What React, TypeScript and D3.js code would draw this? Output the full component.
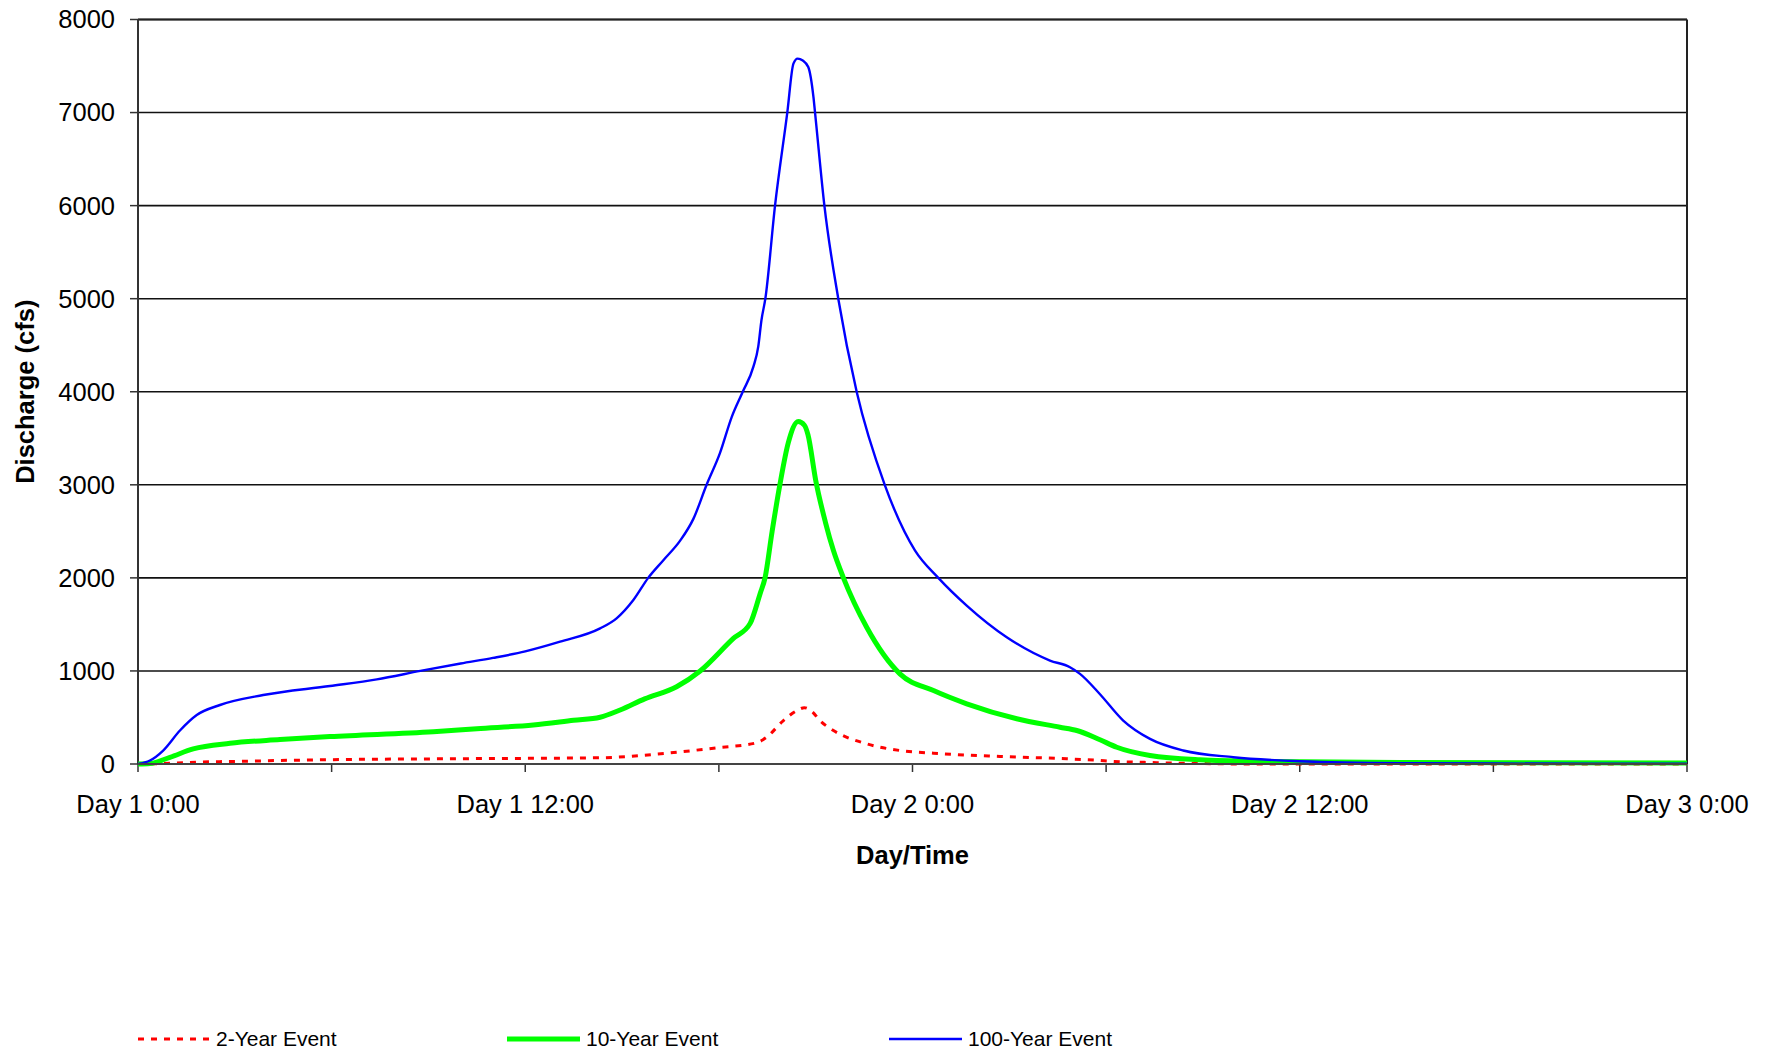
import React from "react";
import * as d3 from "d3";

const hours2: number[] = [0, 0.5, 1, 1.82, 3, 5.64, 10, 14.32, 16.38, 17.93, 19.17, 19.48, 20.0, 20.4, 20.65, 20.9, 21.13, 21.55, 22.58, 23.61, 24.65, 26.71, 28.78, 29.81, 30.11, 31.36, 32.9, 34, 48];
const flow2: number[] = [0, 3, 8, 20, 28, 45, 57, 67, 116, 174, 228, 288, 467, 570, 605, 560, 467, 360, 217, 145, 116, 81, 56, 38, 30, 16, 5, 1, 0];

const hours10: number[] = [0, 0.37, 0.99, 1.71, 2.85, 4.4, 5.95, 9.15, 10.5, 12.25, 13.5, 14.32, 14.94, 15.7, 16.69, 17.42, 18.45, 18.97, 19.28, 19.43, 19.65, 19.89, 20.15, 20.46, 20.65, 20.76, 21.0, 21.3, 21.55, 21.86, 22.58, 23.61, 24.65, 25.68, 27.23, 28.57, 29.09, 29.81, 30.33, 31.36, 32.91, 34.98, 39.1, 48];
const flow10: number[] = [0, 5, 72, 162, 222, 262, 295, 347, 380, 419, 470, 503, 580, 700, 830, 1000, 1350, 1511, 1833, 2000, 2500, 3000, 3450, 3680, 3640, 3540, 3050, 2600, 2293, 2000, 1469, 969, 789, 647, 486, 395, 360, 260, 180, 91, 45, 27, 15, 10];

const hours100: number[] = [0, 0.37, 0.78, 1.3, 1.82, 2.54, 3.88, 5.95, 7.4, 8.75, 10, 11, 12, 13.08, 14.32, 14.83, 15.35, 15.81, 16.28, 16.8, 17.21, 17.62, 18.03, 18.4, 18.74, 19.07, 19.22, 19.32, 19.44, 19.74, 20.12, 20.31, 20.44, 20.6, 20.77, 20.93, 20.98, 21.27, 21.7, 22.27, 23.14, 24.08, 24.8, 25.68, 26.92, 28.26, 28.88, 29.19, 29.81, 30.53, 31.36, 32.39, 33.94, 36, 39.1, 42, 48];
const flow100: number[] = [0, 38, 145, 360, 526, 634, 741, 838, 910, 1000, 1080, 1140, 1210, 1314, 1457, 1565, 1762, 2000, 2190, 2400, 2634, 3000, 3337, 3730, 4000, 4270, 4485, 4770, 5000, 6000, 7000, 7526, 7580, 7560, 7490, 7168, 7000, 6000, 5000, 4000, 3000, 2293, 2000, 1702, 1362, 1112, 1040, 969, 750, 467, 270, 145, 73, 30, 9, 5, 3];

const yTicks: number[] = [0, 1000, 2000, 3000, 4000, 5000, 6000, 7000, 8000];
const xLabelHours: number[] = [0, 12, 24, 36, 48];
const xLabels: string[] = ["Day 1 0:00", "Day 1 12:00", "Day 2 0:00", "Day 2 12:00", "Day 3 0:00"];
const xTickHours: number[] = [0, 6, 12, 18, 24, 30, 36, 42, 48];
const seriesNames: string[] = ["2-Year Event", "10-Year Event", "100-Year Event"];

const W = 1771;
const H = 1052;
const L = 138, R = 1687, T = 19.5, B = 764;
const FONT = "Arial, 'Liberation Sans', Helvetica, sans-serif";

export default function App() {
  const x = d3.scaleLinear().domain([0, 48]).range([L, R]);
  const y = d3.scaleLinear().domain([0, 8000]).range([B, T]);
  const line = d3
    .line<[number, number]>()
    .x((d) => x(d[0]))
    .y((d) => y(d[1]))
    .curve(d3.curveMonotoneX);
  const zip = (a: number[], b: number[]) => a.map((v, i) => [v, b[i]] as [number, number]);

  const series = [
    { name: seriesNames[0], d: line(zip(hours2, flow2)) || "", color: "#ff0000", w: 3, dash: "6,7", lx: 138, tx: 216 },
    { name: seriesNames[1], d: line(zip(hours10, flow10)) || "", color: "#00ff00", w: 5, dash: undefined, lx: 507, tx: 586 },
    { name: seriesNames[2], d: line(zip(hours100, flow100)) || "", color: "#0000ff", w: 2.4, dash: undefined, lx: 889, tx: 968 },
  ];

  return (
    <svg
      width={W}
      height={H}
      style={{ position: "absolute", left: 0, top: 0, background: "#fff" }}
      fontFamily={FONT}
    >
      <rect x={0} y={0} width={W} height={H} fill="#fff" />
      {yTicks.map((t) => (
        <line key={"g" + t} x1={L} x2={R} y1={y(t)} y2={y(t)} stroke="#111" strokeWidth={1.6} />
      ))}
      {yTicks.map((t) => (
        <g key={"yt" + t}>
          <line x1={L - 8} x2={L} y1={y(t)} y2={y(t)} stroke="#333" strokeWidth={1.5} />
          <text x={115} y={y(t)} dy="0.35em" textAnchor="end" fontSize={25.5} fill="#000">
            {t}
          </text>
        </g>
      ))}
      {xTickHours.map((h) => (
        <line key={"xt" + h} x1={x(h)} x2={x(h)} y1={B} y2={B + 8} stroke="#333" strokeWidth={1.5} />
      ))}
      {xLabelHours.map((h, i) => (
        <text key={"xl" + h} x={x(h)} y={813} textAnchor="middle" fontSize={25.5} fill="#000">
          {xLabels[i]}
        </text>
      ))}
      <line x1={L} x2={R} y1={T} y2={T} stroke="#222" strokeWidth={2} />
      <line x1={R} x2={R} y1={T} y2={B} stroke="#222" strokeWidth={2} />
      <line x1={L} x2={L} y1={T} y2={B} stroke="#333" strokeWidth={2} />
      {series.map((s) => (
        <path
          key={s.name}
          d={s.d}
          fill="none"
          stroke={s.color}
          strokeWidth={s.w}
          strokeDasharray={s.dash}
          strokeLinejoin="round"
        />
      ))}
      <line x1={L} x2={R} y1={B} y2={B} stroke="#444" strokeWidth={2.2} />
      <text x={(L + R) / 2} y={864} textAnchor="middle" fontSize={25.5} fontWeight="bold" fill="#000">
        Day/Time
      </text>
      <text
        transform={`translate(34, ${(T + B) / 2}) rotate(-90)`}
        textAnchor="middle"
        fontSize={25.5}
        fontWeight="bold"
        fill="#000"
      >
        Discharge (cfs)
      </text>
      {series.map((s) => (
        <g key={"lg" + s.name}>
          <line
            x1={s.lx}
            x2={s.lx + 73}
            y1={1039}
            y2={1039}
            stroke={s.color}
            strokeWidth={s.w}
            strokeDasharray={s.dash}
          />
          <text x={s.tx} y={1039} dy="0.35em" fontSize={21} fill="#000">
            {s.name}
          </text>
        </g>
      ))}
    </svg>
  );
}
